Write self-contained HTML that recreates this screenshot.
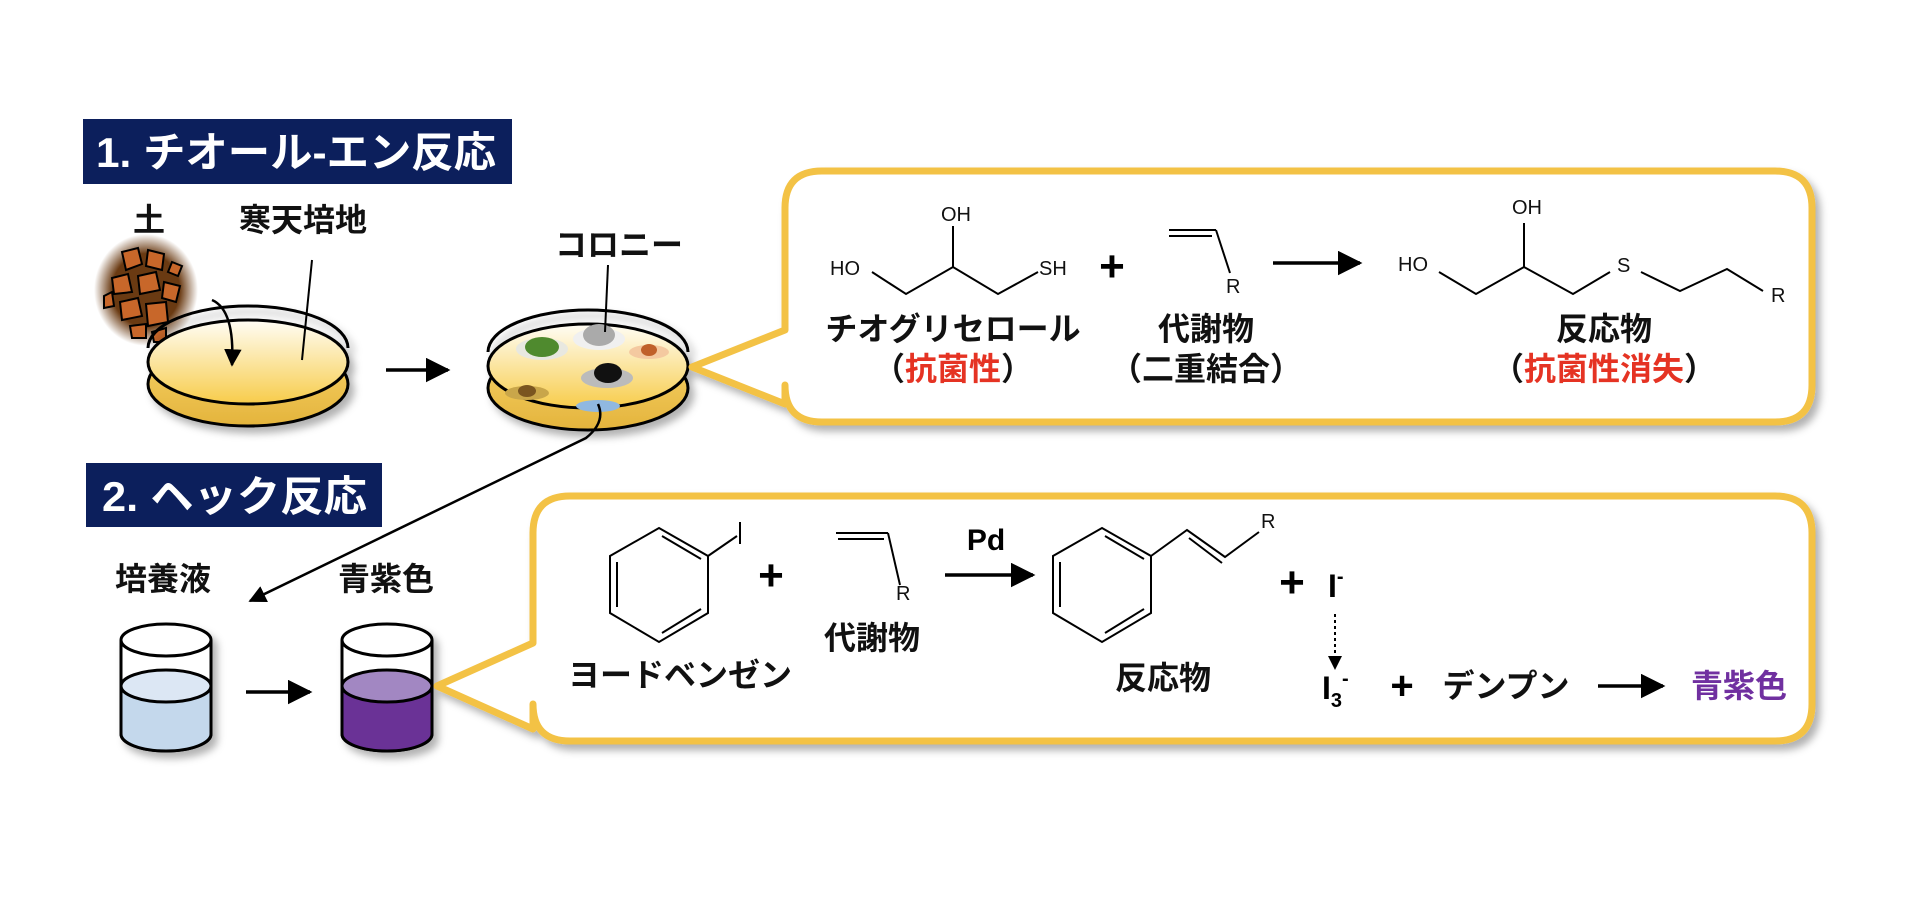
<!DOCTYPE html>
<html><head><meta charset="utf-8"><style>
html,body{margin:0;padding:0;background:#fff;}
svg{display:block;}
text{font-family:"Liberation Sans","Noto Sans CJK JP",sans-serif;}
.b{font-weight:bold;font-size:32px;fill:#111;text-anchor:middle;}
.c{font-size:20px;fill:#111;}
</style></head><body>
<svg width="1920" height="924" viewBox="0 0 1920 924" xmlns="http://www.w3.org/2000/svg">
<defs>
<linearGradient id="agar" x1="0" y1="0" x2="0" y2="1"><stop offset="0" stop-color="#fffdf5"/><stop offset="1" stop-color="#f7cc4a"/></linearGradient>
<linearGradient id="base" x1="0" y1="0" x2="0" y2="1"><stop offset="0" stop-color="#f8d46a"/><stop offset="1" stop-color="#e4b43c"/></linearGradient>
<radialGradient id="soil"><stop offset="0.65" stop-color="#6a3a12"/><stop offset="1" stop-color="#6a3a12" stop-opacity="0"/></radialGradient>
<filter id="sh" x="-10%" y="-10%" width="130%" height="130%"><feDropShadow dx="5" dy="6" stdDeviation="4" flood-color="#000" flood-opacity="0.3"/></filter>
<marker id="ah" viewBox="0 0 10 10" refX="9" refY="5" markerWidth="7" markerHeight="7" orient="auto"><path d="M0,0 L10,5 L0,10 z" fill="#000"/></marker>
</defs>

<!-- labels -->
<rect x="83" y="119" width="429" height="65" fill="#0c1f5c"/>
<text x="96" y="167" font-size="42" font-weight="bold" fill="#fff" textLength="400" lengthAdjust="spacingAndGlyphs">1. チオール-エン反応</text>
<rect x="86" y="463" width="296" height="64" fill="#0c1f5c"/>
<text x="102" y="511" font-size="42" font-weight="bold" fill="#fff" textLength="265" lengthAdjust="spacingAndGlyphs">2. ヘック反応</text>

<text class="b" x="149" y="231">土</text>
<text class="b" x="303" y="231">寒天培地</text>
<text class="b" x="619" y="256">コロニー</text>

<!-- soil -->
<ellipse cx="146" cy="290" rx="52" ry="56" fill="url(#soil)"/>
<g fill="#c8672a" stroke="#000" stroke-width="2">
<polygon points="122,252 138,248 142,264 126,270"/><polygon points="148,250 164,254 162,270 146,266"/><polygon points="112,278 128,274 132,292 114,294"/><polygon points="138,276 156,272 160,290 140,294"/><polygon points="164,282 180,286 176,302 162,298"/><polygon points="120,302 138,298 142,316 122,320"/><polygon points="146,304 166,302 168,322 148,326"/><polygon points="104,296 112,292 114,306 104,308"/><polygon points="172,262 182,266 178,276 168,272"/><polygon points="130,326 146,324 146,338 132,338"/><polygon points="152,332 166,328 166,342 154,342"/>
</g>

<!-- dish1 -->
<g filter="url(#sh)">
<ellipse cx="248" cy="384" rx="100" ry="42" fill="url(#base)" stroke="#000" stroke-width="3"/>
<ellipse cx="248" cy="362" rx="100" ry="42" fill="url(#agar)" stroke="#000" stroke-width="3"/>
<path d="M148,362 A100,42 0 0 1 348,362" fill="none" stroke="#000" stroke-width="3" transform="translate(0,-14)"/>
</g>
<path d="M212,300 Q235,310 232,365" fill="none" stroke="#000" stroke-width="2.5" marker-end="url(#ah)"/>
<line x1="312" y1="260" x2="302" y2="360" stroke="#000" stroke-width="2"/>
<line x1="386" y1="370" x2="448" y2="370" stroke="#000" stroke-width="3.5" marker-end="url(#ah)"/>

<!-- dish2 -->
<g filter="url(#sh)">
<ellipse cx="588" cy="388" rx="100" ry="42" fill="url(#base)" stroke="#000" stroke-width="3"/>
<ellipse cx="588" cy="366" rx="100" ry="42" fill="url(#agar)" stroke="#000" stroke-width="3"/>
<path d="M488,352 A100,42 0 0 1 688,352" fill="none" stroke="#000" stroke-width="3"/>
</g>
<ellipse cx="542" cy="349" rx="26" ry="11" fill="#e8e8e0"/><ellipse cx="542" cy="347" rx="17" ry="10" fill="#4f8a2e"/>
<ellipse cx="599" cy="339" rx="26" ry="11" fill="#f0f0f0"/><ellipse cx="599" cy="335" rx="16" ry="11" fill="#aaa"/>
<ellipse cx="649" cy="352" rx="20" ry="7" fill="#f4c9a0"/><ellipse cx="649" cy="350" rx="8" ry="6" fill="#c0602a"/>
<ellipse cx="607" cy="378" rx="26" ry="10" fill="#bbb"/><ellipse cx="608" cy="373" rx="14" ry="10" fill="#111"/>
<ellipse cx="527" cy="393" rx="22" ry="7" fill="#c9a64a"/><ellipse cx="527" cy="391" rx="9" ry="6" fill="#7a5520"/>
<ellipse cx="598" cy="406" rx="22" ry="6" fill="#90b8e0"/>
<line x1="608" y1="265" x2="605" y2="332" stroke="#000" stroke-width="2"/>
<path d="M598,404 Q606,422 586,438 L250,601" fill="none" stroke="#000" stroke-width="2.5" marker-end="url(#ah)"/>

<!-- cups -->
<text class="b" x="163" y="590">培養液</text>
<text class="b" x="386" y="590">青紫色</text>
<g filter="url(#sh)" stroke="#000" stroke-width="3">
<path d="M121,640 V734 A45,17 0 0 0 211,734 V640" fill="#fff"/>
<path d="M121,686 V734 A45,17 0 0 0 211,734 V686" fill="#c4d8ec"/>
<ellipse cx="166" cy="686" rx="45" ry="16" fill="#dce7f4"/>
<ellipse cx="166" cy="640" rx="45" ry="16" fill="#fff"/>
<path d="M342,640 V734 A45,17 0 0 0 432,734 V640" fill="#fff"/>
<path d="M342,686 V734 A45,17 0 0 0 432,734 V686" fill="#6a3096"/>
<ellipse cx="387" cy="686" rx="45" ry="16" fill="#a287c2"/>
<ellipse cx="387" cy="640" rx="45" ry="16" fill="#fff"/>
</g>
<line x1="246" y1="692" x2="310" y2="692" stroke="#000" stroke-width="3.5" marker-end="url(#ah)"/>

<!-- callout 1 -->
<path filter="url(#sh)" d="M822,171 H1775 Q1812,171 1812,208 V385 Q1812,422 1775,422 H822 Q785,422 785,385 V404 L692,367 L785,330 V208 Q785,171 822,171 Z" fill="#fff" stroke="#f3c244" stroke-width="7" stroke-linejoin="round"/>
<g stroke="#000" stroke-width="2" fill="none">
<polyline points="872,272 906,294 953,267 998,294 1038,272"/>
<line x1="953" y1="267" x2="953" y2="226"/>
<line x1="1169" y1="230" x2="1216" y2="230"/><line x1="1169" y1="236" x2="1212" y2="236"/>
<line x1="1216" y1="230" x2="1230" y2="273"/>
<polyline points="1439,272 1476,294 1524,267 1573,294 1610,272"/>
<line x1="1524" y1="267" x2="1524" y2="223"/>
<polyline points="1641,272 1680,291 1727,269 1763,291"/>
</g>
<text class="c" x="830" y="275">HO</text>
<text class="c" x="941" y="221">OH</text>
<text class="c" x="1039" y="275">SH</text>
<text class="c" x="1226" y="293">R</text>
<text class="c" x="1398" y="271">HO</text>
<text class="c" x="1512" y="214">OH</text>
<text class="c" x="1617" y="272">S</text>
<text class="c" x="1771" y="302">R</text>
<text x="1112" y="281" font-size="44" font-weight="bold" text-anchor="middle">+</text>
<line x1="1273" y1="263" x2="1360" y2="263" stroke="#000" stroke-width="3.5" marker-end="url(#ah)"/>
<text class="b" x="953" y="340">チオグリセロール</text>
<text class="b" x="953" y="380">（<tspan fill="#e53323">抗菌性</tspan>）</text>
<text class="b" x="1206" y="340">代謝物</text>
<text class="b" x="1206" y="380">（二重結合）</text>
<text class="b" x="1604" y="340">反応物</text>
<text class="b" x="1604" y="380">（<tspan fill="#e53323">抗菌性消失</tspan>）</text>

<!-- callout 2 -->
<path filter="url(#sh)" d="M570,496 H1775 Q1812,496 1812,533 V704 Q1812,741 1775,741 H570 Q533,741 533,704 V729 L437,686 L533,643 V533 Q533,496 570,496 Z" fill="#fff" stroke="#f3c244" stroke-width="7" stroke-linejoin="round"/>
<g stroke="#000" stroke-width="2" fill="none">
<polygon points="659,528 708,556 708,613 659,642 610,613 610,556"/>
<line x1="617" y1="562" x2="617" y2="607"/><line x1="662" y1="536" x2="701" y2="559"/><line x1="701" y1="609" x2="662" y2="633"/>
<line x1="708" y1="556" x2="737" y2="536"/>
<line x1="740" y1="522" x2="740" y2="544"/>
<line x1="836" y1="533" x2="888" y2="533"/><line x1="838" y1="539" x2="884" y2="539"/>
<line x1="888" y1="533" x2="900" y2="585"/>
<polygon points="1102,528 1151,556 1151,613 1102,642 1053,613 1053,556"/>
<line x1="1060" y1="562" x2="1060" y2="607"/><line x1="1105" y1="536" x2="1144" y2="559"/><line x1="1144" y1="609" x2="1105" y2="633"/>
<polyline points="1151,556 1187,530 1225,557 1259,532"/>
<line x1="1189" y1="538" x2="1222" y2="563"/>
<line x1="1335" y1="614" x2="1335" y2="660" stroke-dasharray="3,3"/>
</g>
<path d="M1328,656 L1342,656 L1335,670 Z" fill="#000"/>
<text class="c" x="896" y="600">R</text>
<text class="c" x="1261" y="528">R</text>
<text x="771" y="590" font-size="44" font-weight="bold" text-anchor="middle">+</text>
<text x="986" y="550" font-size="30" font-weight="bold" text-anchor="middle">Pd</text>
<line x1="945" y1="575" x2="1033" y2="575" stroke="#000" stroke-width="3.5" marker-end="url(#ah)"/>
<text class="b" x="872" y="649">代謝物</text>
<text class="b" x="680" y="686">ヨードベンゼン</text>
<text class="b" x="1163" y="689">反応物</text>
<text x="1292" y="597" font-size="44" font-weight="bold" text-anchor="middle">+</text>
<text x="1328" y="597" font-size="32" font-weight="bold">I<tspan font-size="20" dy="-14">-</tspan></text>
<text x="1322" y="699" font-size="32" font-weight="bold">I<tspan font-size="20" dy="8">3</tspan><tspan font-size="20" dy="-22">-</tspan></text>
<text x="1402" y="699" font-size="40" font-weight="bold" text-anchor="middle">+</text>
<text class="b" x="1506" y="697">デンプン</text>
<line x1="1598" y1="686" x2="1663" y2="686" stroke="#000" stroke-width="3.5" marker-end="url(#ah)"/>
<text class="b" x="1739" y="697" style="fill:#7030a0">青紫色</text>
</svg>
</body></html>
